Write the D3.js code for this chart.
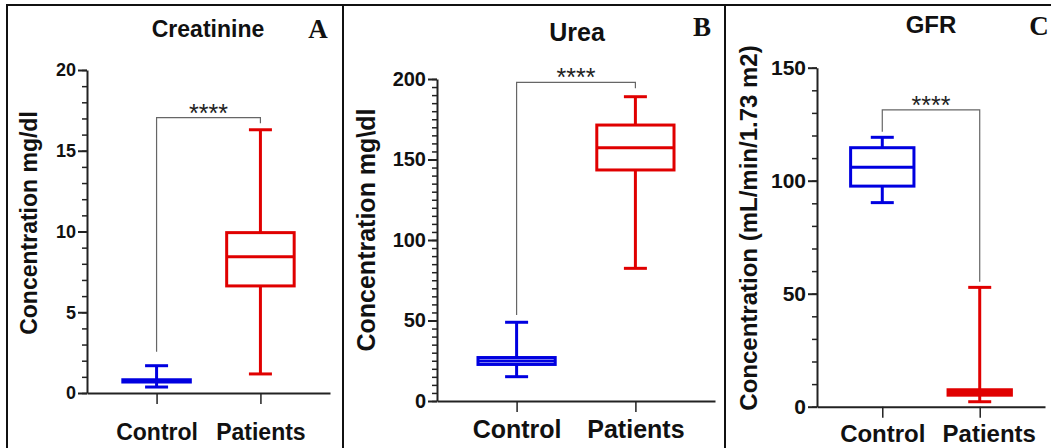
<html>
<head>
  <title></title>
  <script src="https://cdn.jsdelivr.net/npm/d3@7/dist/d3.min.js"></script>
<style type="text/css">
body { margin: 0; background: #fff; }
text { font-family: "Liberation Sans", Arial, sans-serif; font-weight: bold; }
</style>
</head>
<body>
<script type="text/javascript">
// groups on the x axis
var groups = ['Control', 'Patients'];

// box stats: [min, q1, median, q3, max]
var creatinineControl = [0.37, 0.68, 0.75, 0.82, 1.69];
var creatininePatients = [1.18, 6.63, 8.44, 9.93, 16.3];
var ureaControl = [15.1, 22.7, 24.8, 27.0, 48.9];
var ureaPatients = [82.4, 143.5, 157.3, 171.4, 189];
var gfrControl = [90.3, 97.6, 105.9, 114.6, 119.2];
var gfrPatients = [2.2, 5.1, 6.3, 7.5, 52.8];

// significance bracket: [left leg end, top, right leg end]
var creatinineBracket = [2.55, 17.05, 16.7];
var ureaBracket = [53.4, 197.9, 194.2];
var gfrBracket = [121.7, 131.3, 55.3];

// tick labels
var creatinineTicks = [0, 5, 10, 15, 20];
var ureaTicks = [0, 50, 100, 150, 200];
var gfrTicks = [0, 50, 100, 150];

var W = 1051, H = 448;
var blue = '#0000e0', red = '#e00000';

var svg = d3.select('body').append('svg')
  .attr('width', W)
  .attr('height', H);

// panel frames
var frame = svg.append('g').attr('stroke', '#111').attr('stroke-width', 2).attr('fill', 'none');
frame.append('line').attr('x1', 7).attr('x2', W).attr('y1', 5).attr('y2', 5);
[7, 343, 725].forEach(function(x) {
  frame.append('line').attr('x1', x).attr('x2', x).attr('y1', 4).attr('y2', H);
});

var panels = [
  {title: 'Creatinine', letter: 'A', label: 'Concentration mg/dl',
   boxes: [creatinineControl, creatininePatients], bracket: creatinineBracket,
   ticks: creatinineTicks, minor: 1, max: 20,
   x0: 87, x1: 330, y0: 393, y1: 70, fs: 23, tfs: 18, xpad: 20,
   titleX: 208, titleY: 37, letterX: 318, letterY: 38, labelX: 37, labelY: 223},
  {title: 'Urea', letter: 'B', label: 'Concentration mg\\dl',
   boxes: [ureaControl, ureaPatients], bracket: ureaBracket,
   ticks: ureaTicks, minor: 5, max: 200,
   x0: 437, x1: 715, y0: 401, y1: 79, fs: 25, tfs: 20, xpad: 8,
   titleX: 577, titleY: 41, letterX: 702, letterY: 36, labelX: 375, labelY: 230},
  {title: 'GFR', letter: 'C', label: 'Concentration (mL/min/1.73 m2)',
   boxes: [gfrControl, gfrPatients], bracket: gfrBracket,
   ticks: gfrTicks, minor: 10, max: 150,
   x0: 817, x1: 1045, y0: 406.7, y1: 67.7, fs: 24, tfs: 21, xpad: 7,
   titleX: 931, titleY: 33, letterX: 1039, letterY: 35, labelX: 757, labelY: 228}
];

panels.forEach(function(p, k) {
  var g = svg.append('g');
  var x = d3.scalePoint().domain(groups).range([p.x0, p.x1]).padding(0.67);
  var y = d3.scaleLinear().domain([0, p.max]).range([p.y0, p.y1]);
  var step = x.step();

  // minor ticks
  g.append('g')
    .attr('transform', 'translate(' + p.x0 + ',0)')
    .call(d3.axisLeft(y).tickValues(d3.range(0, p.max + 0.001, p.minor)).tickSize(5).tickFormat(''))
    .call(function(a) { a.select('.domain').remove(); })
    .selectAll('line').attr('stroke', '#222').attr('stroke-width', 1.5);

  // major ticks + labels
  var ya = g.append('g')
    .attr('transform', 'translate(' + p.x0 + ',0)')
    .call(d3.axisLeft(y).tickValues(p.ticks).tickSize(9).tickPadding(2).tickSizeOuter(0));
  ya.select('.domain').attr('stroke', '#222').attr('stroke-width', 2);
  ya.selectAll('line').attr('stroke', '#222').attr('stroke-width', 2);
  ya.selectAll('text').attr('font-size', p.tfs).attr('fill', '#111')
    .style('font-family', '"Liberation Sans", Arial, sans-serif').style('font-weight', 'bold');

  var xa = g.append('g')
    .attr('transform', 'translate(0,' + p.y0 + ')')
    .call(d3.axisBottom(x).tickSize(11).tickPadding(p.xpad).tickSizeOuter(0));
  xa.select('.domain').attr('stroke', '#222').attr('stroke-width', 2);
  xa.selectAll('line').attr('stroke', '#222').attr('stroke-width', 1.5);
  xa.selectAll('text').attr('font-size', p.fs).attr('fill', '#111')
    .attr('dx', function(d, i) { return k === 2 && i === 1 ? 9 : 0; })
    .style('font-family', '"Liberation Sans", Arial, sans-serif').style('font-weight', 'bold');

  // box plots
  var bw = step * 0.65, cap = 23;
  p.boxes.forEach(function(b, i) {
    var cx = x(groups[i]);
    var col = i === 0 ? blue : red;
    var bg = g.append('g').attr('stroke', col).attr('stroke-width', 3).attr('fill', 'none');
    bg.append('line').attr('x1', cx).attr('x2', cx).attr('y1', y(b[0])).attr('y2', y(b[1]));
    bg.append('line').attr('x1', cx).attr('x2', cx).attr('y1', y(b[3])).attr('y2', y(b[4]));
    bg.append('line').attr('x1', cx - cap / 2).attr('x2', cx + cap / 2).attr('y1', y(b[0])).attr('y2', y(b[0]));
    bg.append('line').attr('x1', cx - cap / 2).attr('x2', cx + cap / 2).attr('y1', y(b[4])).attr('y2', y(b[4]));
    bg.append('rect').attr('x', cx - bw / 2).attr('width', bw)
      .attr('y', y(b[3])).attr('height', y(b[1]) - y(b[3]));
    bg.append('line').attr('x1', cx - bw / 2).attr('x2', cx + bw / 2).attr('y1', y(b[2])).attr('y2', y(b[2]));
  });

  // significance bracket
  var xl = x(groups[0]), xr = x(groups[1]);
  var br = p.bracket;
  g.append('path')
    .attr('d', 'M' + xl + ',' + y(br[0]) + 'V' + y(br[1]) + 'H' + xr + 'V' + y(br[2]))
    .attr('fill', 'none').attr('stroke', '#666').attr('stroke-width', 1.2);
  g.append('text').attr('x', (xl + xr) / 2).attr('y', y(br[1]) + 4)
    .attr('text-anchor', 'middle').attr('font-size', 25).attr('fill', '#222')
    .style('font-weight', 'normal').text('****');

  // titles, letters, y labels
  g.append('text').attr('x', p.titleX).attr('y', p.titleY).attr('text-anchor', 'middle')
    .attr('font-size', p.fs).attr('fill', '#111').text(p.title);
  g.append('text').attr('x', p.letterX).attr('y', p.letterY).attr('text-anchor', 'middle')
    .attr('font-size', 27).attr('fill', '#111')
    .style('font-family', '"Liberation Serif", "Times New Roman", serif').text(p.letter);
  g.append('text').attr('transform', 'translate(' + p.labelX + ',' + p.labelY + ') rotate(-90)')
    .attr('text-anchor', 'middle').attr('font-size', p.fs).attr('fill', '#111').text(p.label);
});
</script>
</body>
</html>
